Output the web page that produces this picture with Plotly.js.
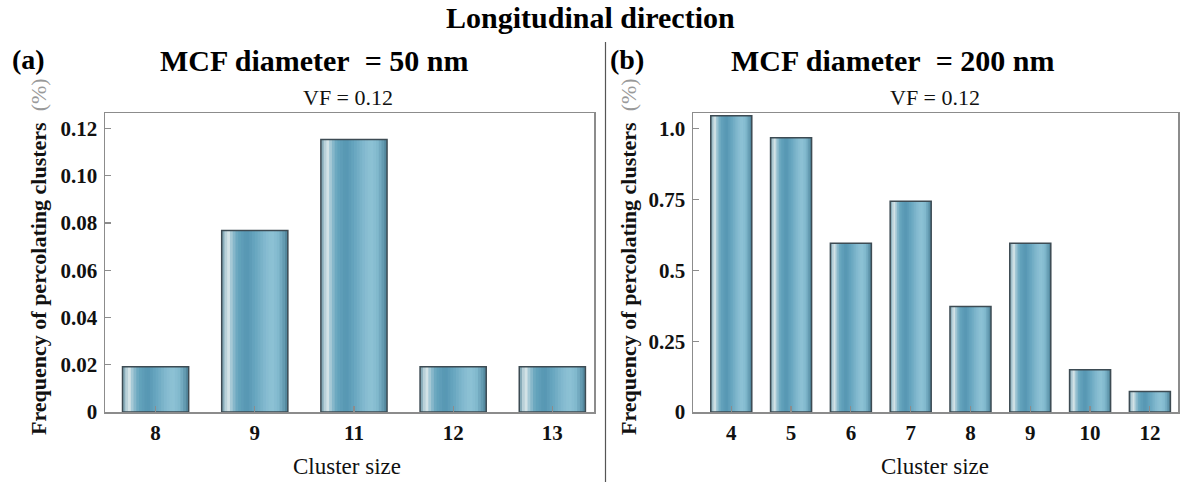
<!DOCTYPE html>
<html>
<head>
<meta charset="utf-8">
<script src="https://cdn.plot.ly/plotly-3.0.1.min.js"></script>
<style>html,body{margin:0;padding:0;background:#fff;}#chart{width:1181px;height:482px;}</style>
</head>
<body>
<div id="chart"></div>
<script>
// ---- data ----
const catsA = ['8', '9', '11', '12', '13'];
const valsA = [0.0192, 0.0769, 0.1154, 0.0192, 0.0192];
const catsB = ['4', '5', '6', '7', '8', '9', '10', '12'];
const valsB = [1.045, 0.968, 0.595, 0.744, 0.372, 0.595, 0.149, 0.072];
const tickValsA = [0, 0.02, 0.04, 0.06, 0.08, 0.10, 0.12];
const tickTextA = ['0', '0.02', '0.04', '0.06', '0.08', '0.10', '0.12'];
const tickValsB = [0, 0.25, 0.5, 0.75, 1.0];
const tickTextB = ['0', '0.25', '0.5', '0.75', '1.0'];

// ---- styling helpers ----
const W = 1181, H = 482;
const px = x => x / W;
const py = y => 1 - y / H;
const serif = 'Liberation Serif';

// gradient profile across bar width (fraction, rgb)
const stops = [
  [0.00, [108, 150, 166]],
  [0.05, [175, 202, 212]],
  [0.10, [215, 228, 232]],
  [0.16, [150, 192, 208]],
  [0.24, [102, 165, 190]],
  [0.38, [86, 150, 178]],
  [0.52, [106, 168, 193]],
  [0.66, [132, 186, 207]],
  [0.76, [142, 194, 213]],
  [0.86, [128, 184, 205]],
  [0.95, [95, 150, 173]],
  [1.00, [75, 126, 148]]
];
function colAt(t) {
  for (let i = 0; i < stops.length - 1; i++) {
    const [t0, c0] = stops[i], [t1, c1] = stops[i + 1];
    if (t >= t0 && t <= t1) {
      const f = (t - t0) / (t1 - t0);
      const c = c0.map((v, k) => Math.round(v + (c1[k] - v) * f));
      return `rgb(${c[0]},${c[1]},${c[2]})`;
    }
  }
  const c = stops[stops.length - 1][1];
  return `rgb(${c[0]},${c[1]},${c[2]})`;
}

function gradientBars(cats, vals, barW, xa, ya) {
  const N = 24;
  const traces = [];
  const sw = barW / N;
  for (let i = 0; i < N; i++) {
    const off = -barW / 2 + i * sw;
    const wd = Math.min(2.5 * sw, barW - i * sw);
    traces.push({
      type: 'bar', x: cats, y: vals, xaxis: xa, yaxis: ya,
      width: wd, offset: off,
      marker: {color: colAt((i + 0.5) / N), line: {width: 0}},
      hoverinfo: 'skip', showlegend: false
    });
  }
  traces.push({
    type: 'bar', x: cats, y: vals, xaxis: xa, yaxis: ya,
    width: barW, offset: -barW / 2,
    marker: {color: 'rgba(0,0,0,0)', line: {color: '#3d4b53', width: 1.5}},
    hoverinfo: 'skip', showlegend: false
  });
  return traces;
}

const data = [
  ...gradientBars(catsA, valsA, 0.667, 'x', 'y'),
  ...gradientBars(catsB, valsB, 0.686, 'x2', 'y2')
];

const boldTick = {family: serif, size: 21, color: '#111', weight: 'bold'};
const axCommon = {
  showline: true, mirror: true, linecolor: '#8c8c8c', linewidth: 1.5,
  ticks: 'inside', ticklen: 6, tickwidth: 1.2, tickcolor: '#8c8c8c',
  showgrid: false, zeroline: false, fixedrange: true,
  tickfont: boldTick
};

const yDom = [py(412), py(113)];
const layout = {
  width: W, height: H,
  margin: {l: 0, r: 0, t: 0, b: 0},
  paper_bgcolor: '#fff', plot_bgcolor: '#fff',
  barmode: 'overlay',
  showlegend: false,
  font: {family: serif},
  xaxis: Object.assign({}, axCommon, {
    domain: [px(105), px(594)], type: 'category',
    range: [-0.51, 4.42], anchor: 'y', ticklabelstandoff: 1
  }),
  yaxis: Object.assign({}, axCommon, {
    domain: yDom, range: [0, 0.1266], anchor: 'x',
    tickvals: tickValsA, ticktext: tickTextA, ticklabelstandoff: 2
  }),
  xaxis2: Object.assign({}, axCommon, {
    domain: [px(693), px(1178)], type: 'category',
    range: [-0.64, 7.47], anchor: 'y2', ticklabelstandoff: 1
  }),
  yaxis2: Object.assign({}, axCommon, {
    domain: yDom, range: [0, 1.055], anchor: 'x2',
    tickvals: tickValsB, ticktext: tickTextB, ticklabelstandoff: 2
  }),
  shapes: [
    {type: 'line', xref: 'paper', yref: 'paper', x0: px(605.5), x1: px(605.5),
     y0: py(42), y1: py(482), line: {color: '#555', width: 1.2}}
  ],
  annotations: [
    {text: '<b>Longitudinal direction</b>', x: px(590), y: py(18), xref: 'paper', yref: 'paper',
     xanchor: 'center', yanchor: 'middle', showarrow: false,
     font: {family: serif, size: 30, color: '#000'}},
    {text: '<b>(a)</b>', x: px(10), y: py(59), xref: 'paper', yref: 'paper',
     xanchor: 'left', yanchor: 'middle', showarrow: false,
     font: {family: serif, size: 28, color: '#000'}},
    {text: '<b>(b)</b>', x: px(608), y: py(59), xref: 'paper', yref: 'paper',
     xanchor: 'left', yanchor: 'middle', showarrow: false,
     font: {family: serif, size: 28, color: '#000'}},
    {text: '<b>MCF diameter&nbsp; = 50 nm</b>', x: px(314), y: py(60), xref: 'paper', yref: 'paper',
     xanchor: 'center', yanchor: 'middle', showarrow: false,
     font: {family: serif, size: 30, color: '#000'}},
    {text: '<b>MCF diameter&nbsp; = 200 nm</b>', x: px(892), y: py(60), xref: 'paper', yref: 'paper',
     xanchor: 'center', yanchor: 'middle', showarrow: false,
     font: {family: serif, size: 30, color: '#000'}},
    {text: 'VF = 0.12', x: px(348), y: py(98), xref: 'paper', yref: 'paper',
     xanchor: 'center', yanchor: 'middle', showarrow: false,
     font: {family: serif, size: 22, color: '#111'}},
    {text: 'VF = 0.12', x: px(935), y: py(98), xref: 'paper', yref: 'paper',
     xanchor: 'center', yanchor: 'middle', showarrow: false,
     font: {family: serif, size: 22, color: '#111'}},
    {text: '<b>Frequency of percolating clusters</b>&nbsp; <span style="color:#999">(%)</span>',
     x: px(38), y: py(257), xref: 'paper', yref: 'paper', textangle: -90,
     xanchor: 'center', yanchor: 'middle', showarrow: false,
     font: {family: serif, size: 22, color: '#111'}},
    {text: '<b>Frequency of percolating clusters</b>&nbsp; <span style="color:#999">(%)</span>',
     x: px(628), y: py(257), xref: 'paper', yref: 'paper', textangle: -90,
     xanchor: 'center', yanchor: 'middle', showarrow: false,
     font: {family: serif, size: 22, color: '#111'}},
    {text: 'Cluster size', x: px(347), y: py(466), xref: 'paper', yref: 'paper',
     xanchor: 'center', yanchor: 'middle', showarrow: false,
     font: {family: serif, size: 23, color: '#111'}},
    {text: 'Cluster size', x: px(935), y: py(466), xref: 'paper', yref: 'paper',
     xanchor: 'center', yanchor: 'middle', showarrow: false,
     font: {family: serif, size: 23, color: '#111'}}
  ]
};

Plotly.newPlot('chart', data, layout, {displayModeBar: false, staticPlot: true});
</script>
</body>
</html>
